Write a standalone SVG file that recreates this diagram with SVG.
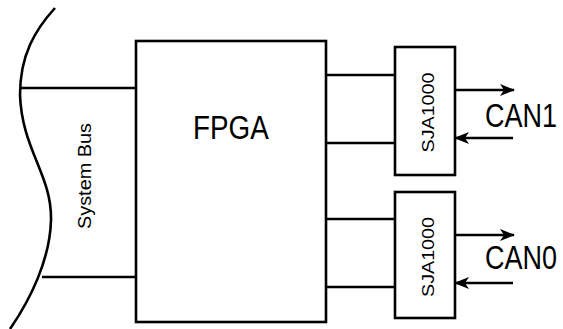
<svg xmlns="http://www.w3.org/2000/svg" width="563" height="329" viewBox="0 0 563 329">
<style>
.ln{stroke:#000;stroke-width:2.6;fill:none}
.box{stroke:#000;stroke-width:2.6;fill:#fff}
.t{font-family:"Liberation Sans",Arial,sans-serif;fill:#000}
.big{font-size:27px}
.arr{stroke:#000;stroke-width:2.4;fill:none;marker-end:url(#ah)}
</style>
<defs>
<marker id="ah" markerWidth="16" markerHeight="12" refX="14" refY="6" orient="auto" markerUnits="userSpaceOnUse">
<path d="M0,0 L15,6 L0,12 L4,6 Z" fill="#000"/>
</marker>
</defs>
<g id="bus">
<path class="ln" d="M55,8 C35,30 20,55 20,95 C22,150 52,175 51,220 C50,260 30,300 10,329"/>
<text class="t" transform="translate(91,176) rotate(-90)" text-anchor="middle" font-size="18" textLength="106" lengthAdjust="spacingAndGlyphs" fill="#222">System Bus</text>
</g>
<g id="fpga">
<rect class="box" x="136" y="41" width="190" height="281"/>
<text class="t big" transform="translate(193,139) scale(1.03,1.25)" font-size="27">FPGA</text>
</g>
<g id="sja1">
<rect class="box" x="395" y="47" width="60" height="128"/>
<text class="t" transform="translate(434,112.5) rotate(-90)" text-anchor="middle" font-size="17" textLength="80" lengthAdjust="spacingAndGlyphs">SJA1000</text>
</g>
<g id="sja0">
<rect class="box" x="395" y="192" width="60" height="126"/>
<text class="t" transform="translate(434,257) rotate(-90)" text-anchor="middle" font-size="17" textLength="80" lengthAdjust="spacingAndGlyphs">SJA1000</text>
</g>
<g id="can1">
<text class="t big" transform="translate(485,127) scale(1,1.25)">CAN1</text>
</g>
<g id="can0">
<text class="t big" transform="translate(485,269) scale(1,1.25)">CAN0</text>
</g>
<g id="connectors">
<line class="ln" x1="20" y1="88" x2="136" y2="88"/>
<line class="ln" x1="42" y1="277" x2="136" y2="277"/>
<line class="ln" x1="326" y1="75" x2="395" y2="75"/>
<line class="ln" x1="326" y1="143" x2="395" y2="143"/>
<line class="ln" x1="326" y1="219" x2="395" y2="219"/>
<line class="ln" x1="326" y1="287" x2="395" y2="287"/>
<line class="arr" x1="455" y1="90" x2="514" y2="90"/>
<line class="arr" x1="513" y1="138" x2="455" y2="138"/>
<line class="arr" x1="455" y1="235" x2="514" y2="235"/>
<line class="arr" x1="513" y1="283" x2="455" y2="283"/>
</g>
</svg>
